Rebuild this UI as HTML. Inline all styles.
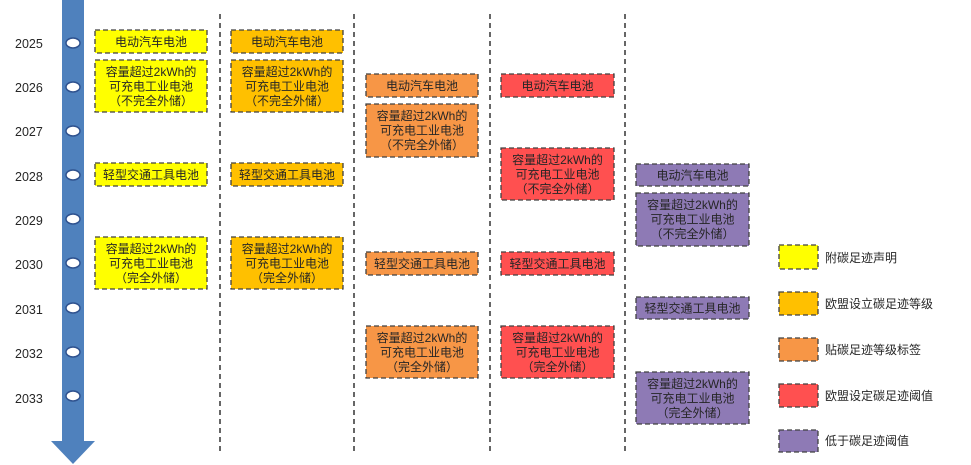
<!DOCTYPE html>
<html>
<head>
<meta charset="utf-8">
<style>
  html,body{margin:0;padding:0;background:#fff;}
  svg{display:block;}
  text{font-family:"Liberation Sans","Noto Sans CJK SC",sans-serif;fill:#262626;}
</style>
</head>
<body>
<svg width="971" height="465" viewBox="0 0 971 465" xmlns="http://www.w3.org/2000/svg">
  <!-- timeline arrow -->
  <rect x="62" y="0" width="22" height="442" fill="#4F81BD"/>
  <polygon points="51,441 95,441 73,464" fill="#4F81BD"/>

  <!-- year markers -->
  <g fill="#fff" stroke="#2F528F" stroke-width="1.5">
    <ellipse cx="73" cy="43" rx="7" ry="5"/>
    <ellipse cx="73" cy="87" rx="7" ry="5"/>
    <ellipse cx="73" cy="131" rx="7" ry="5"/>
    <ellipse cx="73" cy="175" rx="7" ry="5"/>
    <ellipse cx="73" cy="219" rx="7" ry="5"/>
    <ellipse cx="73" cy="263" rx="7" ry="5"/>
    <ellipse cx="73" cy="308" rx="7" ry="5"/>
    <ellipse cx="73" cy="352" rx="7" ry="5"/>
    <ellipse cx="73" cy="396" rx="7" ry="5"/>
  </g>
  <g font-size="12.5" dominant-baseline="central">
    <text x="15" y="44" dominant-baseline="central">2025</text>
    <text x="15" y="88" dominant-baseline="central">2026</text>
    <text x="15" y="132" dominant-baseline="central">2027</text>
    <text x="15" y="177" dominant-baseline="central">2028</text>
    <text x="15" y="221" dominant-baseline="central">2029</text>
    <text x="15" y="265" dominant-baseline="central">2030</text>
    <text x="15" y="310" dominant-baseline="central">2031</text>
    <text x="15" y="354" dominant-baseline="central">2032</text>
    <text x="15" y="399" dominant-baseline="central">2033</text>
  </g>

  <!-- column dividers -->
  <g stroke="#333" stroke-width="1.5" stroke-dasharray="5,4">
    <line x1="220" y1="14" x2="220" y2="451"/>
    <line x1="354" y1="14" x2="354" y2="451"/>
    <line x1="490" y1="14" x2="490" y2="451"/>
    <line x1="625" y1="14" x2="625" y2="451"/>
  </g>

  <!-- boxes -->
  <g stroke="#404040" stroke-width="1.3" stroke-dasharray="5,3">
    <!-- col1 yellow -->
    <rect x="95" y="30" width="112" height="23" fill="#FFFF00"/>
    <rect x="95" y="60" width="112" height="52" fill="#FFFF00"/>
    <rect x="95" y="163" width="112" height="23" fill="#FFFF00"/>
    <rect x="95" y="237" width="112" height="52" fill="#FFFF00"/>
    <!-- col2 gold -->
    <rect x="231" y="30" width="112" height="23" fill="#FFC000"/>
    <rect x="231" y="60" width="112" height="52" fill="#FFC000"/>
    <rect x="231" y="163" width="112" height="23" fill="#FFC000"/>
    <rect x="231" y="237" width="112" height="52" fill="#FFC000"/>
    <!-- col3 orange -->
    <rect x="366" y="74" width="112" height="23" fill="#F79646"/>
    <rect x="366" y="104" width="112" height="53" fill="#F79646"/>
    <rect x="366" y="252" width="112" height="23" fill="#F79646"/>
    <rect x="366" y="326" width="112" height="52" fill="#F79646"/>
    <!-- col4 red -->
    <rect x="501" y="74" width="113" height="23" fill="#FF5050"/>
    <rect x="501" y="148" width="113" height="52" fill="#FF5050"/>
    <rect x="501" y="252" width="113" height="23" fill="#FF5050"/>
    <rect x="501" y="326" width="113" height="52" fill="#FF5050"/>
    <!-- col5 purple -->
    <rect x="636" y="164" width="113" height="22" fill="#8E7AB5"/>
    <rect x="636" y="193" width="113" height="53" fill="#8E7AB5"/>
    <rect x="636" y="297" width="113" height="22" fill="#8E7AB5"/>
    <rect x="636" y="372" width="113" height="52" fill="#8E7AB5"/>
  </g>

  <!-- box text -->
  <g font-size="12" text-anchor="middle" dominant-baseline="central">
    <!-- col1 -->
    <text x="151" y="42" dominant-baseline="central">电动汽车电池</text>
    <text x="151" y="72" dominant-baseline="central">容量超过2kWh的</text>
    <text x="151" y="86.5" dominant-baseline="central">可充电工业电池</text>
    <text x="151" y="101" dominant-baseline="central">（不完全外储）</text>
    <text x="151" y="175" dominant-baseline="central">轻型交通工具电池</text>
    <text x="151" y="249" dominant-baseline="central">容量超过2kWh的</text>
    <text x="151" y="263.5" dominant-baseline="central">可充电工业电池</text>
    <text x="151" y="278" dominant-baseline="central">（完全外储）</text>
    <!-- col2 -->
    <text x="287" y="42" dominant-baseline="central">电动汽车电池</text>
    <text x="287" y="72" dominant-baseline="central">容量超过2kWh的</text>
    <text x="287" y="86.5" dominant-baseline="central">可充电工业电池</text>
    <text x="287" y="101" dominant-baseline="central">（不完全外储）</text>
    <text x="287" y="175" dominant-baseline="central">轻型交通工具电池</text>
    <text x="287" y="249" dominant-baseline="central">容量超过2kWh的</text>
    <text x="287" y="263.5" dominant-baseline="central">可充电工业电池</text>
    <text x="287" y="278" dominant-baseline="central">（完全外储）</text>
    <!-- col3 -->
    <text x="422" y="86" dominant-baseline="central">电动汽车电池</text>
    <text x="422" y="116" dominant-baseline="central">容量超过2kWh的</text>
    <text x="422" y="130.5" dominant-baseline="central">可充电工业电池</text>
    <text x="422" y="145" dominant-baseline="central">（不完全外储）</text>
    <text x="422" y="264" dominant-baseline="central">轻型交通工具电池</text>
    <text x="422" y="338" dominant-baseline="central">容量超过2kWh的</text>
    <text x="422" y="352.5" dominant-baseline="central">可充电工业电池</text>
    <text x="422" y="367" dominant-baseline="central">（完全外储）</text>
    <!-- col4 -->
    <text x="557.5" y="86" dominant-baseline="central">电动汽车电池</text>
    <text x="557.5" y="160" dominant-baseline="central">容量超过2kWh的</text>
    <text x="557.5" y="174.5" dominant-baseline="central">可充电工业电池</text>
    <text x="557.5" y="189" dominant-baseline="central">（不完全外储）</text>
    <text x="557.5" y="264" dominant-baseline="central">轻型交通工具电池</text>
    <text x="557.5" y="338" dominant-baseline="central">容量超过2kWh的</text>
    <text x="557.5" y="352.5" dominant-baseline="central">可充电工业电池</text>
    <text x="557.5" y="367" dominant-baseline="central">（完全外储）</text>
    <!-- col5 -->
    <text x="692.5" y="175.5" dominant-baseline="central">电动汽车电池</text>
    <text x="692.5" y="205" dominant-baseline="central">容量超过2kWh的</text>
    <text x="692.5" y="219.5" dominant-baseline="central">可充电工业电池</text>
    <text x="692.5" y="234" dominant-baseline="central">（不完全外储）</text>
    <text x="692.5" y="308.5" dominant-baseline="central">轻型交通工具电池</text>
    <text x="692.5" y="384" dominant-baseline="central">容量超过2kWh的</text>
    <text x="692.5" y="398.5" dominant-baseline="central">可充电工业电池</text>
    <text x="692.5" y="413" dominant-baseline="central">（完全外储）</text>
  </g>

  <!-- legend -->
  <g stroke="#404040" stroke-width="1.3" stroke-dasharray="5,3">
    <rect x="779" y="245" width="39" height="24" fill="#FFFF00"/>
    <rect x="779" y="292" width="39" height="23" fill="#FFC000"/>
    <rect x="779" y="338" width="39" height="23" fill="#F79646"/>
    <rect x="779" y="384" width="39" height="23" fill="#FF5050"/>
    <rect x="779" y="430" width="39" height="22" fill="#8E7AB5"/>
  </g>
  <g font-size="12">
    <text x="825" y="258" dominant-baseline="central">附碳足迹声明</text>
    <text x="825" y="304" dominant-baseline="central">欧盟设立碳足迹等级</text>
    <text x="825" y="350" dominant-baseline="central">贴碳足迹等级标签</text>
    <text x="825" y="396" dominant-baseline="central">欧盟设定碳足迹阈值</text>
    <text x="825" y="441" dominant-baseline="central">低于碳足迹阈值</text>
  </g>
</svg>
</body>
</html>
